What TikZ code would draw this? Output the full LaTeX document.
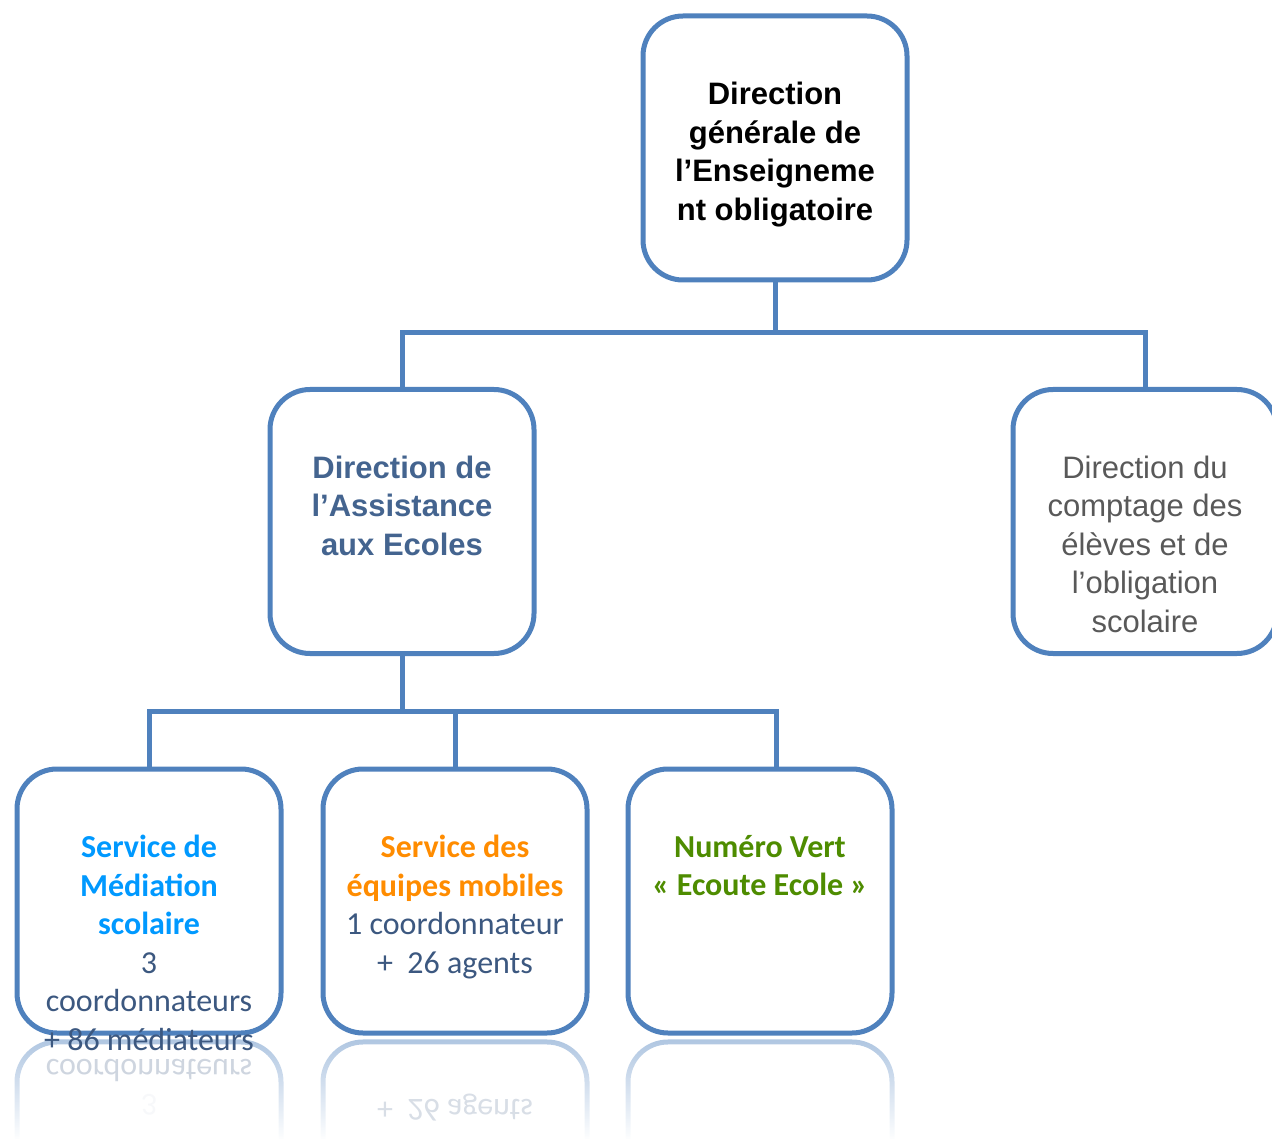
\documentclass[tikz,border=0pt]{standalone}
\usepackage{fontspec}
\setmainfont{Liberation Sans}
\newfontfamily\calibri{Carlito}
\usetikzlibrary{fadings}
\definecolor{boxblue}{RGB}{79,129,189}
\definecolor{midblue}{RGB}{68,100,143}
\definecolor{greytxt}{RGB}{89,89,89}
\definecolor{skyblue}{RGB}{0,153,255}
\definecolor{orangetxt}{RGB}{255,140,0}
\definecolor{greentxt}{RGB}{78,140,0}
\definecolor{counttxt}{RGB}{60,88,128}
\tikzfading[name=reflfade, top color=transparent!55, bottom color=transparent!100]
\begin{document}
\begin{tikzpicture}[x=1pt,y=-1pt,
  orgbox/.style={draw=boxblue, line width=5pt, rounded corners=40pt, minimum width=264pt, minimum height=264pt, inner sep=0pt, fill=white},
  conn/.style={draw=boxblue, line width=5pt},
  reflbox/.style={draw=boxblue, line width=5pt, rounded corners=40pt, path fading=reflfade},
  arialtxt/.style={font=\fontsize{31}{38.5}\selectfont, align=center, inner sep=0pt, anchor=north},
  calitxt/.style={font=\calibri\fontsize{32}{38.5}\selectfont, align=center, inner sep=0pt, anchor=north},
  refltxt/.style={font=\calibri\fontsize{32}{38.5}\selectfont, text=counttxt, inner sep=0pt}]
\useasboundingbox (0,0) rectangle (1272,1139);

% reflections
\path[reflbox] (17,1139) -- (17,1042) -- (281,1042) -- (281,1139);
\path[reflbox] (323,1139) -- (323,1042) -- (587,1042) -- (587,1139);
\path[reflbox] (628,1139) -- (628,1042) -- (892,1042) -- (892,1139);
\node[refltxt, opacity=0.25] (r1) at (149,1070) {\scalebox{1}[-1]{coordonnateurs}};
\node[refltxt, opacity=0.04] (r2) at (149,1105) {\scalebox{1}[-1]{3}};
\node[refltxt, opacity=0.2] (r3) at (455,1108) {\scalebox{1}[-1]{+\ \ 26 agents}};

% boxes
\node[orgbox] (top) at (775,148) {};
\node[orgbox] (mid1) at (402,521.5) {};
\node[orgbox] (mid2) at (1145,521.5) {};
\node[orgbox] (bot1) at (149,901) {};
\node[orgbox] (bot2) at (455,901) {};
\node[orgbox] (bot3) at (760,901) {};

% connectors
\coordinate (j1) at (775,333);
\coordinate (j2) at (402,711);
\coordinate (b3c) at (776,767);
\draw[conn] (top.south) -- (j1);
\draw[conn] (mid1.north) |- (j1) -| (mid2.north);
\draw[conn] (mid1.south) -- (j2);
\draw[conn] (bot1.north) |- (b3c |- j2) -- (b3c);
\draw[conn] (bot2.north) -- (bot2.north |- j2);

% texts
\node[arialtxt, font=\bfseries\fontsize{31}{38.5}\selectfont] (ttop) at ([yshift=-68.5pt]top.north)
  {Direction\\générale de\\l’Enseigneme\\nt obligatoire};
\node[arialtxt, font=\bfseries\fontsize{31}{38.5}\selectfont, text=midblue] (tmid1) at ([yshift=-68.5pt]mid1.north)
  {Direction de\\l’Assistance\\aux Ecoles};
\node[arialtxt, text=greytxt] (tmid2) at ([yshift=-68.5pt]mid2.north)
  {Direction du\\comptage des\\élèves et de\\l’obligation\\scolaire};
\node[calitxt, text=counttxt] (tbot1) at ([yshift=-68.5pt]bot1.north)
  {\textcolor{skyblue}{\bfseries Service de}\\\textcolor{skyblue}{\bfseries Médiation}\\\textcolor{skyblue}{\bfseries scolaire}\\3\\coordonnateurs\\+ 86 médiateurs};
\node[calitxt, text=counttxt] (tbot2) at ([yshift=-68.5pt]bot2.north)
  {\textcolor{orangetxt}{\bfseries Service des}\\\textcolor{orangetxt}{\bfseries équipes mobiles}\\1 coordonnateur\\+\ \ 26 agents};
\node[calitxt, text=greentxt, font=\calibri\bfseries\fontsize{32}{38.5}\selectfont] (tbot3) at ([yshift=-68.5pt]bot3.north)
  {Numéro Vert\\« Ecoute Ecole »};
\end{tikzpicture}
\end{document}
